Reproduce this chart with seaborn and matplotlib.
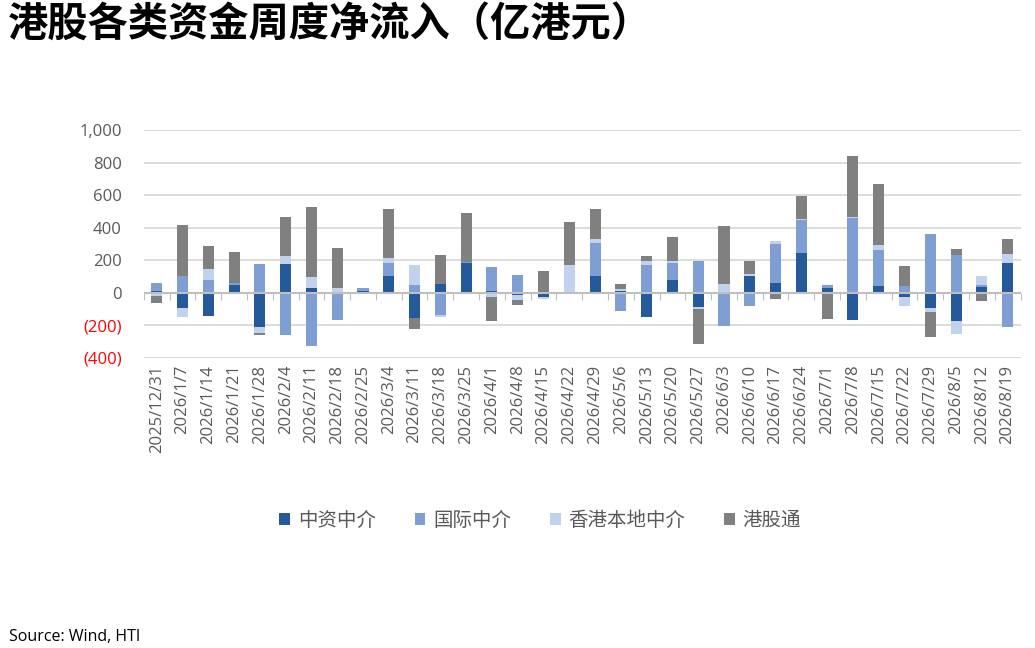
import numpy as np
import pandas as pd
import matplotlib.pyplot as plt
import seaborn as sns

dates = ['2025/12/31', '2026/1/7', '2026/1/14', '2026/1/21', '2026/1/28', '2026/2/4',
         '2026/2/11', '2026/2/18', '2026/2/25', '2026/3/4', '2026/3/11', '2026/3/18',
         '2026/3/25', '2026/4/1', '2026/4/8', '2026/4/15', '2026/4/22', '2026/4/29',
         '2026/5/6', '2026/5/13', '2026/5/20', '2026/5/27', '2026/6/3', '2026/6/10',
         '2026/6/17', '2026/6/24', '2026/7/1', '2026/7/8', '2026/7/15', '2026/7/22',
         '2026/7/29', '2026/8/5', '2026/8/12', '2026/8/19']

# 亿港元
zhongzi = [10, -95, -145, 45, -210, 175, 30, 0, 8, 100, -155, 55,
           180, 10, -12, -25, 0, 105, 8, -150, 80, -88, -5, 100,
           60, 245, 30, -165, 40, -25, -92, -175, 35, 185]
guoji = [50, 100, 80, 12, 175, -260, -325, -165, 18, 82, 50, -140,
         10, 150, 112, 0, 5, 200, -115, 168, 105, 198, -200, -80,
         240, 205, 15, 460, 225, 40, 360, 235, 15, -210]
bendi = [-22, -55, 65, 0, -35, 50, 65, 30, 0, 33, 122, -8,
         0, -28, -35, -15, 168, 25, 12, 25, 10, -10, 55, 15,
         20, 5, 0, 8, 30, -55, -25, -82, 50, 55]
ggt = [-41, 315, 140, 193, -15, 240, 430, 245, -10, 302, -70, 180,
       300, -147, -28, 135, 265, 185, 35, 30, 150, -217, 353, 80,
       -40, 143, -160, 375, 373, 126, -158, 31, -50, 88]

series_names = ['中资中介', '国际中介', '香港本地中介', '港股通']
colors = ['#245A9A', '#7F9FD4', '#C3D2EC', '#808080']

sns.set_style("white")
plt.rcParams['font.family'] = ['Open Sans', 'Noto Sans CJK SC', 'DejaVu Sans']

df = pd.DataFrame({'date': dates, '中资中介': zhongzi, '国际中介': guoji,
                   '香港本地中介': bendi, '港股通': ggt})

# positives stack upward, negatives stack downward (Excel style)
pos = df[series_names].clip(lower=0).cumsum(axis=1)
neg = df[series_names].clip(upper=0).cumsum(axis=1)

fig = plt.figure(figsize=(10.35, 6.48), dpi=100)
ax = fig.add_axes([0.139, 0.448, 0.847, 0.351])

for name, color in reversed(list(zip(series_names, colors))):
    sns.barplot(x=df['date'], y=pos[name], color=color, width=0.43, ax=ax,
                saturation=1, errorbar=None, linewidth=0, label=name)
    sns.barplot(x=df['date'], y=neg[name], color=color, width=0.43, ax=ax,
                saturation=1, errorbar=None, linewidth=0)
if ax.get_legend() is not None:
    ax.get_legend().remove()

ax.set_xlim(-0.5, len(dates) - 0.5)
ax.set_ylim(-400, 1000)
yt = np.arange(-400, 1001, 200)
ax.set_yticks(yt)
ax.set_yticklabels([f'{v:,}' if v >= 0 else f'({-v:,})' for v in yt])
for lab, v in zip(ax.get_yticklabels(), yt):
    lab.set_color('#FF0000' if v < 0 else '#595959')
ax.tick_params(axis='y', length=0, pad=16, labelsize=12)
ax.tick_params(axis='x', length=0, pad=5, labelsize=12, labelrotation=90, labelcolor='#595959')
ax.set_xlabel('')
ax.set_ylabel('')
ax.yaxis.grid(True, color='#D9D9D9', linewidth=1.3)
ax.set_axisbelow(True)
for s in ax.spines.values():
    s.set_visible(False)
ax.axhline(0, color='#BFBFBF', linewidth=1.5, zorder=1)

# category tick marks on the zero line
sec = ax.secondary_xaxis(400 / 1400)
sec.set_xticks(np.arange(-0.5, len(dates), 1))
sec.tick_params(axis='x', which='both', direction='out', length=5, color='#BFBFBF',
                labelbottom=False, labeltop=False, bottom=True, top=False)
for s in sec.spines.values():
    s.set_visible(False)

handles, labels = ax.get_legend_handles_labels()
fig.legend(handles[::-1], labels[::-1], loc='center', bbox_to_anchor=(0.522, 0.197),
           ncol=4, frameon=False, handlelength=0.55, handleheight=0.55,
           handletextpad=0.4, columnspacing=2.0,
           prop={'family': ['Noto Sans CJK SC'], 'size': 14}, labelcolor='#595959')

fig.text(0.008, 0.963, '港股各类资金周度净流入（亿港元）', fontsize=29, fontweight='bold',
         family=['Noto Sans CJK SC'], va='center', ha='left', color='black')
fig.text(0.009, 0.017, 'Source: Wind, HTI', fontsize=11.5, va='center', ha='left', color='black')

fig.savefig('out.png', dpi=100)
